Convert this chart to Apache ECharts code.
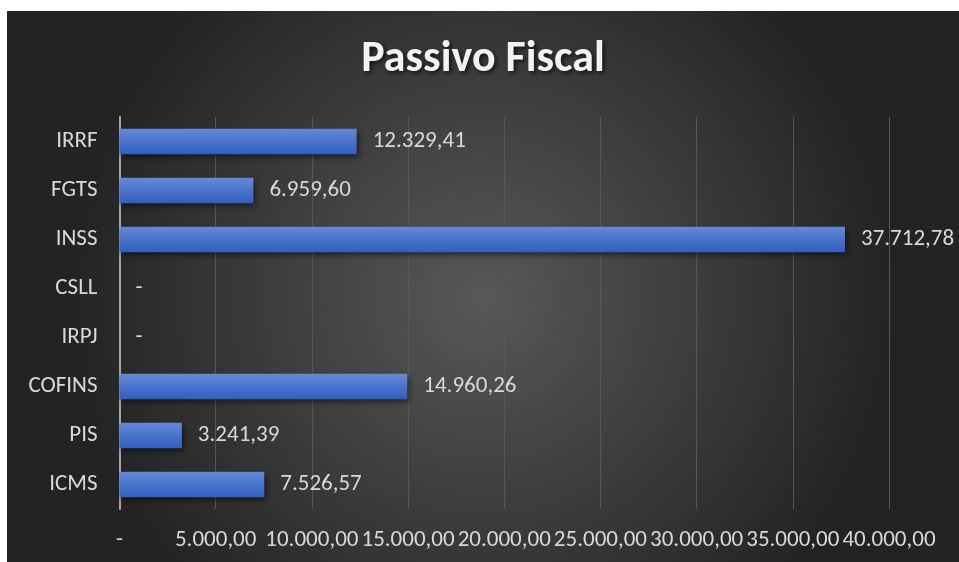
<!DOCTYPE html>
<html><head><meta charset="utf-8">
<script src="https://cdn.jsdelivr.net/npm/echarts@6/dist/echarts.min.js"></script>
<style>
html,body{margin:0;padding:0;background:#fff;width:959px;height:562px;overflow:hidden}
#c{position:absolute;left:7px;top:11px;width:952px;height:551px}
</style></head>
<body><div id="c"></div>
<script>
const titleText = 'Passivo Fiscal';
const categories = ['IRRF','FGTS','INSS','CSLL','IRPJ','COFINS','PIS','ICMS'];
const values = [12329.41, 6959.60, 37712.78, 0, 0, 14960.26, 3241.39, 7526.57];
const axisMax = 40000;
const axisStep = 5000;

function fmt(v){
  if (v === 0) return '-';
  const parts = v.toFixed(2).split('.');
  const intPart = parts[0].replace(/\B(?=(\d{3})+(?!\d))/g, '.');
  return intPart + ',' + parts[1];
}

const font = "Carlito, 'Open Sans', sans-serif";
const chart = echarts.init(document.getElementById('c'));
chart.setOption({
  backgroundColor: {
    type: 'radial', x: 0.5, y: 0.52, r: 0.75,
    colorStops: [{offset: 0, color: '#585858'}, {offset: 1, color: '#232323'}]
  },
  title: {
    text: titleText, left: 'center', top: 22,
    textStyle: {
      fontFamily: font, fontSize: 44, fontWeight: 'bold', color: '#f2f2f2',
      textShadowColor: 'rgba(0,0,0,0.7)', textShadowBlur: 4,
      textShadowOffsetX: 2, textShadowOffsetY: 2
    }
  },
  grid: {left: 112.5, right: 70, top: 106, bottom: 53, containLabel: false},
  xAxis: {
    type: 'value', min: 0, max: axisMax, interval: axisStep,
    axisLine: {show: false}, axisTick: {show: false},
    splitLine: {lineStyle: {color: '#575757', width: 1}},
    axisLabel: {
      formatter: fmt, color: '#d9d9d9', fontFamily: font, fontSize: 23, margin: 20
    }
  },
  yAxis: {
    type: 'category', data: categories, inverse: true,
    axisLine: {show: true, lineStyle: {color: '#a6a6a6', width: 2}},
    axisTick: {show: false},
    axisLabel: {color: '#d9d9d9', fontFamily: font, fontSize: 23, margin: 22}
  },
  series: [{
    type: 'bar', data: values, barWidth: '52%',
    itemStyle: {
      color: {type: 'linear', x: 0, y: 0, x2: 0, y2: 1,
        colorStops: [{offset: 0, color: '#6489d7'}, {offset: 1, color: '#305fbf'}]},
      shadowColor: 'rgba(0,0,0,0.55)', shadowBlur: 6, shadowOffsetX: 2, shadowOffsetY: 3
    },
    label: {
      show: true, position: 'right', distance: 16,
      formatter: p => fmt(p.value),
      color: '#d9d9d9', fontFamily: font, fontSize: 23
    }
  }]
});
</script></body></html>
